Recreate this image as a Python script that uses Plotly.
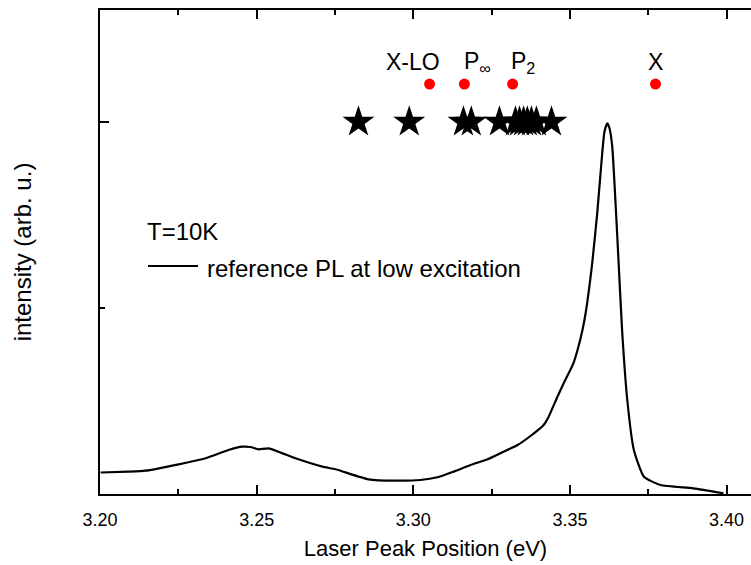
import plotly.graph_objects as go

# PL spectrum (eV, arb. u.)
energy = [3.2002, 3.2091, 3.2145, 3.2251, 3.2337, 3.2410, 3.2455, 3.2480, 3.2506, 3.2538,
          3.2624, 3.2710, 3.2752, 3.2857, 3.2943, 3.3023, 3.3077, 3.3128, 3.3183, 3.3237,
          3.3288, 3.3333, 3.3374, 3.3416, 3.3432, 3.3460, 3.3480, 3.3511, 3.3527, 3.3540,
          3.3550, 3.3571, 3.3587, 3.3603, 3.3610, 3.3619, 3.3626, 3.3635, 3.3645, 3.3656,
          3.3667, 3.3683, 3.3704, 3.3736, 3.3789, 3.3894, 3.3990]
intensity = [0.0578, 0.0600, 0.0626, 0.0798, 0.0960, 0.1183, 0.1272, 0.1263, 0.1202, 0.1228,
             0.0960, 0.0734, 0.0664, 0.0395, 0.0358, 0.0376, 0.0449, 0.0600, 0.0780, 0.0933,
             0.1137, 0.1317, 0.1559, 0.1855, 0.2078, 0.2616, 0.2976, 0.3513, 0.3960, 0.4409,
             0.4858, 0.6202, 0.7546, 0.9159, 0.9731, 0.9965, 0.9839, 0.9336, 0.7903, 0.6110,
             0.4320, 0.2527, 0.1183, 0.0465, 0.0242, 0.0153, 0.0019]

# laser peak positions (stars)
laser_peaks = [3.2825, 3.2987, 3.3160, 3.3185, 3.3275, 3.3326, 3.3339, 3.3352,
               3.3364, 3.3377, 3.3393, 3.3441]
laser_level = [1.0] * len(laser_peaks)

# marked transitions (red dots)
trans_names = ["X-LO", "P<sub>∞</sub>", "P<sub>2</sub>", "X"]
trans_energy = [3.3052, 3.3163, 3.3317, 3.3773]
trans_level = [1.102] * len(trans_energy)

# x tick labels
xtick_vals = [3.20, 3.25, 3.30, 3.35, 3.40]
xtick_text = ["3.20", "3.25", "3.30", "3.35", "3.40"]

FONT = "Arial, 'Liberation Sans', sans-serif"
L, T, B, W, H = 100, 10, 71, 751, 565
PW, PH = W - L, H - T - B

def px(x):
    return (x - L) / PW

def py(y):
    return (H - B - y) / PH

fig = go.Figure()
fig.add_trace(go.Scatter(x=energy, y=intensity, mode="lines",
                         line=dict(color="black", width=2.2, shape="spline", smoothing=0.5),
                         showlegend=False, name="reference PL at low excitation"))
fig.add_trace(go.Scatter(x=laser_peaks, y=laser_level, mode="markers",
                         marker=dict(symbol="star", size=24, color="black"),
                         showlegend=False))
fig.add_trace(go.Scatter(x=trans_energy, y=trans_level, mode="markers",
                         marker=dict(symbol="circle", size=11, color="#ff0000"),
                         showlegend=False))

label_anchor = ["right", "left", "left", "center"]
label_dx = [0.0040, -0.0006, -0.0011, 0.0]
for name, e, a, dx in zip(trans_names, trans_energy, label_anchor, label_dx):
    fig.add_annotation(x=e + dx, y=1.161, text=name, showarrow=False,
                       xanchor=a, yanchor="middle",
                       font=dict(family=FONT, size=23, color="black"))

fig.add_annotation(x=px(145), y=py(231), xref="paper", yref="paper", text="T=10K",
                   showarrow=False, xanchor="left", yanchor="middle",
                   font=dict(family=FONT, size=24, color="black"))
fig.add_shape(type="line", xref="paper", yref="paper", x0=px(148), x1=px(198),
              y0=py(266), y1=py(266), line=dict(color="black", width=2))
fig.add_annotation(x=px(205), y=py(268), xref="paper", yref="paper",
                   text="reference PL at low excitation",
                   showarrow=False, xanchor="left", yanchor="middle",
                   font=dict(family=FONT, size=24, color="black"))

fig.update_xaxes(range=[3.2, 3.2 + 651 / 3133],
                 tickvals=xtick_vals, ticktext=xtick_text,
                 ticks="inside", ticklen=9, tickwidth=2, tickcolor="black",
                 ticklabelstandoff=8,
                 minor=dict(ticks="inside", ticklen=5, tickwidth=2, tickcolor="black",
                            tickvals=[3.225, 3.275, 3.325, 3.375]),
                 showline=True, linewidth=2, linecolor="black", mirror="ticks",
                 showgrid=False, zeroline=False,
                 tickfont=dict(family=FONT, size=18, color="black"),
                 title=dict(text="Laser Peak Position (eV)", standoff=12,
                            font=dict(family=FONT, size=22, color="black")))
fig.update_yaxes(range=[0, 1.301], tickvals=[0, 1], showticklabels=False,
                 ticks="inside", ticklen=9, tickwidth=2, tickcolor="black",
                 minor=dict(ticks="inside", ticklen=5, tickwidth=2, tickcolor="black",
                            tickvals=[0.5]),
                 showline=True, linewidth=2, linecolor="black", mirror=False,
                 showgrid=False, zeroline=False,
                 title=dict(text="intensity (arb. u.)", standoff=60,
                            font=dict(family=FONT, size=24, color="black")))

fig.update_layout(width=W, height=H, margin=dict(l=L, r=0, t=T, b=B),
                  paper_bgcolor="white", plot_bgcolor="white", showlegend=False)
fig.write_html("out.html")
